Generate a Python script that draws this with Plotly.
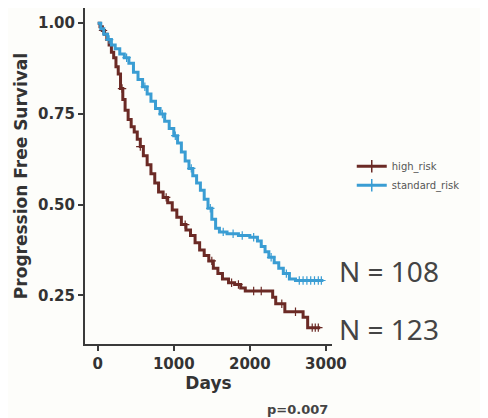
import plotly.graph_objects as go

# ---- data ----
high_t = [0, 30, 60, 90, 120, 150, 180, 210, 240, 270, 300, 330, 360, 400, 440, 480, 520, 560,
          600, 650, 700, 750, 800, 860, 920, 980, 1040, 1100, 1160, 1220, 1280, 1340, 1400, 1460,
          1520, 1580, 1640, 1720, 1800, 1880, 1940, 2300, 2340, 2460, 2700, 2760]
high_s = [1.0, 0.99, 0.98, 0.97, 0.955, 0.94, 0.92, 0.905, 0.88, 0.86, 0.82, 0.79, 0.76, 0.735,
          0.715, 0.70, 0.68, 0.66, 0.635, 0.61, 0.585, 0.56, 0.535, 0.52, 0.505, 0.485, 0.465,
          0.445, 0.43, 0.415, 0.395, 0.375, 0.36, 0.345, 0.325, 0.31, 0.295, 0.285, 0.28, 0.27,
          0.262, 0.245, 0.227, 0.205, 0.19, 0.161]
high_end = 2925
high_cens = [70, 320, 560, 900, 1150, 1500, 1760, 1850, 2050, 2150, 2420, 2600, 2820, 2860, 2900]

std_t = [0, 40, 80, 130, 180, 230, 290, 350, 410, 470, 530, 590, 650, 700, 760, 820, 880, 940,
         1000, 1050, 1100, 1150, 1200, 1250, 1300, 1350, 1400, 1450, 1500, 1550, 1600, 1700, 1850,
         2000, 2100, 2150, 2200, 2250, 2320, 2380, 2440, 2520, 2600]
std_s = [1.0, 0.985, 0.97, 0.955, 0.94, 0.93, 0.915, 0.905, 0.89, 0.865, 0.845, 0.825, 0.805,
         0.785, 0.765, 0.75, 0.73, 0.71, 0.69, 0.67, 0.645, 0.62, 0.60, 0.58, 0.56, 0.54, 0.515,
         0.49, 0.46, 0.435, 0.425, 0.42, 0.415, 0.41, 0.40, 0.385, 0.37, 0.355, 0.34, 0.325,
         0.31, 0.295, 0.291]
std_end = 2967
std_cens = [150, 380, 620, 850, 1020, 1230, 1480, 1650, 1780, 1900, 2050, 2280, 2480, 2650,
            2700, 2750, 2800, 2850, 2900, 2940]

groups = ["high_risk", "standard_risk"]
colors = ["#6b2a25", "#3a9dd3"]
n_labels = ["N = 123", "N = 108"]
x_ticks = [0, 1000, 2000, 3000]
y_ticks = [0.25, 0.50, 0.75, 1.00]


def surv_at(ts, ss, t):
    v = ss[0]
    for ti, si in zip(ts, ss):
        if ti <= t:
            v = si
    return v


fig = go.Figure()
series = [(high_t, high_s, high_end, high_cens), (std_t, std_s, std_end, std_cens)]
for (ts, ss, tend, cens), name, col in zip(series, groups, colors):
    fig.add_trace(go.Scatter(x=ts + [tend], y=ss + [ss[-1]], mode="lines",
                             line=dict(color=col, width=3, shape="hv"),
                             showlegend=False, hoverinfo="skip"))
    fig.add_trace(go.Scatter(x=cens, y=[surv_at(ts, ss, c) for c in cens], mode="markers",
                             marker=dict(symbol="cross-thin", size=6,
                                         line=dict(color=col, width=1.2)),
                             showlegend=False, hoverinfo="skip"))
    fig.add_trace(go.Scatter(x=[None], y=[None], mode="lines+markers", name=name,
                             line=dict(color=col, width=3),
                             marker=dict(symbol="cross-thin", size=9,
                                         line=dict(color=col, width=1.5))))

tickf = dict(family="DejaVu Sans", size=15, color="#333333", weight="bold")
titlef = dict(family="DejaVu Sans", size=17, color="#333333", weight="bold")

fig.update_layout(
    width=480, height=410,
    margin=dict(l=77, r=156, t=0, b=74),
    paper_bgcolor="#fdfdfa", plot_bgcolor="#fdfdfa",
    xaxis=dict(range=[-167, 3080], tickvals=x_ticks, showgrid=False, zeroline=False,
               showline=True, linecolor="#3a3a3a", linewidth=2, ticks="outside",
               ticklen=5, tickwidth=1.5, tickcolor="#3a3a3a", tickfont=tickf,
               title=dict(text="Days", font=titlef, standoff=4)),
    yaxis=dict(range=[0.116, 1.042], tickvals=y_ticks, tickformat=".2f", showgrid=False,
               zeroline=False, showline=True, linecolor="#3a3a3a", linewidth=2,
               ticks="outside", ticklen=5, tickwidth=1.5, tickcolor="#3a3a3a", tickfont=tickf,
               title=dict(text="Progression Free Survival", font=titlef, standoff=6)),
    legend=dict(x=1.08, y=0.572, xanchor="left", yanchor="top",
                font=dict(family="DejaVu Sans", size=10, color="#555555"),
                bgcolor="rgba(0,0,0,0)", tracegroupgap=0),
    showlegend=True,
)

fig.add_annotation(text=n_labels[1], xref="paper", yref="paper", x=1.02, y=0.217,
                   xanchor="left", yanchor="middle", showarrow=False,
                   font=dict(family="Noto Sans", size=28, color="#444444"))
fig.add_annotation(text=n_labels[0], xref="paper", yref="paper", x=1.02, y=0.046,
                   xanchor="left", yanchor="middle", showarrow=False,
                   font=dict(family="Noto Sans", size=28, color="#444444"))
fig.add_annotation(text="p=0.007", xref="paper", yref="paper", x=0.862, y=-0.196,
                   xanchor="center", yanchor="middle", showarrow=False,
                   font=dict(family="DejaVu Sans", size=13, color="#444444", weight="bold"))

fig.write_html("out.html")
